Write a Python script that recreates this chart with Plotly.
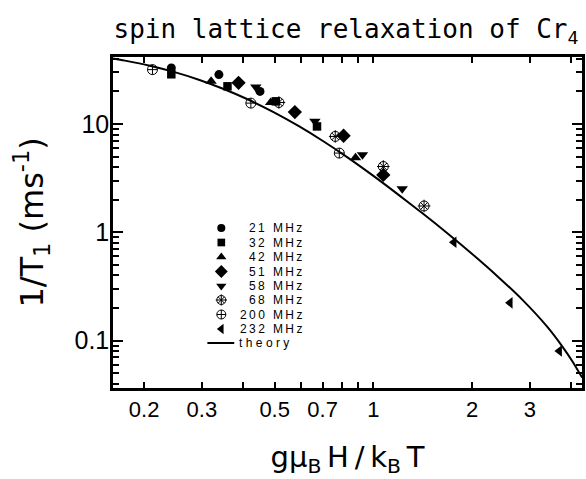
import plotly.graph_objects as go

# ---------------- data ----------------
freq_names = ["21 MHz", "32 MHz", "42 MHz", "51 MHz", "58 MHz", "68 MHz", "200 MHz", "232 MHz"]

x21 = [0.242, 0.338, 0.451]
y21 = [33.0, 28.6, 20.0]
x32 = [0.242, 0.359, 0.504, 0.673]
y32 = [28.8, 22.3, 16.2, 9.5]
x42 = [0.320, 0.486, 0.882]
y42 = [24.8, 15.8, 4.88]
x51 = [0.388, 0.576, 0.811, 1.072]
y51 = [24.0, 12.9, 7.79, 3.39]
x58 = [0.438, 0.663, 0.926, 1.224]
y58 = [22.0, 10.6, 5.2, 2.53]
x68 = [0.515, 0.765, 1.072, 1.427]
y68 = [15.8, 7.68, 4.05, 1.75]
x200 = [0.212, 0.423, 0.787]
y200 = [31.8, 15.6, 5.39]
x232 = [1.76, 2.61, 3.69]
y232 = [0.808, 0.223, 0.080]

theory_x = [0.1607, 0.1748, 0.2081, 0.2477, 0.2949, 0.3511, 0.4181, 0.4977, 0.5926,
            0.7055, 0.8399, 1.0, 1.1906, 1.4175, 1.6876, 2.0092, 2.392, 2.848,
            3.391, 3.765, 4.037, 4.329]
theory_y = [40.26, 38.50, 34.54, 30.15, 25.54, 20.96, 16.66, 12.82, 9.543,
            6.892, 4.843, 3.317, 2.229, 1.482, 0.9707, 0.6237, 0.3915, 0.2375,
            0.1338, 0.0885, 0.0648, 0.0455]

x_tickvals = [0.2, 0.3, 0.5, 0.7, 1, 2, 3]
x_ticktext = ["0.2", "0.3", "0.5", "0.7", "1", "2", "3"]
x_minorvals = [0.4, 0.6, 0.8, 0.9, 4]
y_tickvals = [0.1, 1, 10]
y_ticktext = ["0.1", "1", "10"]
y_minorvals = [0.04, 0.05, 0.06, 0.07, 0.08, 0.09,
               0.2, 0.3, 0.4, 0.5, 0.6, 0.7, 0.8, 0.9,
               2, 3, 4, 5, 6, 7, 8, 9, 20, 30, 40]

# ---------------- layout geometry ----------------
W, H = 586, 479
ML, MR, MT, MB = 113, 1, 57, 91
PW, PH = W - ML - MR, H - MT - MB


def fx(p):
    return (p - ML) / PW


def fy(p):
    return 1 - (p - MT) / PH


def track(s):
    return "\u2009".join(s)


BLACK = "black"
styles = {
    "21 MHz": dict(symbol="circle", size=9),
    "32 MHz": dict(symbol="square", size=8.5),
    "42 MHz": dict(symbol="triangle-up", size=10),
    "51 MHz": dict(symbol="diamond", size=11),
    "58 MHz": dict(symbol="triangle-down", size=10),
    "68 MHz": dict(symbol="circle-x-open", size=10, line=dict(width=1, color=BLACK)),
    "200 MHz": dict(symbol="circle-cross-open", size=10, line=dict(width=1, color=BLACK)),
    "232 MHz": dict(symbol="triangle-left", size=10),
}
xs_all = [x21, x32, x42, x51, x58, x68, x200, x232]
ys_all = [y21, y32, y42, y51, y58, y68, y200, y232]

fig = go.Figure()

fig.add_trace(go.Scatter(x=theory_x, y=theory_y, mode="lines",
                         line=dict(color=BLACK, width=2, shape="spline", smoothing=0.8),
                         showlegend=False, hoverinfo="skip"))

for name, xs, ys in zip(freq_names, xs_all, ys_all):
    st = dict(color=BLACK)
    st.update(styles[name])
    fig.add_trace(go.Scatter(x=xs, y=ys, mode="markers", name=name,
                             marker=st, showlegend=False))
    if name == "68 MHz":
        fig.add_trace(go.Scatter(x=xs, y=ys, mode="markers", showlegend=False,
                                 hoverinfo="skip",
                                 marker=dict(symbol="cross-thin-open", size=9,
                                             color=BLACK,
                                             line=dict(width=1, color=BLACK))))

# ---------------- hand-made legend (overlay axes, 0..1 = plot area) ----------------
leg_rows = [228, 242.5, 257, 271.5, 286, 300, 314.5, 329]
leg_marker_x = 222
leg_text_right = 305
for name, row in zip(freq_names, leg_rows):
    st = dict(color=BLACK)
    st.update(styles[name])
    st["size"] = st["size"] * 0.9
    fig.add_trace(go.Scatter(x=[fx(leg_marker_x)], y=[fy(row)], mode="markers",
                             marker=st, xaxis="x2", yaxis="y2",
                             showlegend=False, hoverinfo="skip"))
    if name == "68 MHz":
        fig.add_trace(go.Scatter(x=[fx(leg_marker_x)], y=[fy(row)], mode="markers",
                                 marker=dict(symbol="cross-thin-open", size=8,
                                             color=BLACK,
                                             line=dict(width=1, color=BLACK)),
                                 xaxis="x2", yaxis="y2", showlegend=False,
                                 hoverinfo="skip"))
    fig.add_annotation(x=fx(leg_text_right), y=fy(row), xref="paper", yref="paper",
                       text=track(name), showarrow=False, xanchor="right",
                       yanchor="middle",
                       font=dict(family="Liberation Sans", size=12, color=BLACK))

theory_row = 343
fig.add_trace(go.Scatter(x=[fx(208), fx(235)], y=[fy(theory_row), fy(theory_row)],
                         mode="lines", line=dict(color=BLACK, width=2),
                         xaxis="x2", yaxis="y2", showlegend=False, hoverinfo="skip"))
fig.add_annotation(x=fx(238), y=fy(theory_row), xref="paper", yref="paper",
                   text="\u2009\u200a".join("theory"), showarrow=False,
                   xanchor="left", yanchor="middle",
                   font=dict(family="Liberation Sans", size=12, color=BLACK))

axis_common = dict(showgrid=False, zeroline=False, showline=True, linewidth=2.5,
                   linecolor=BLACK, mirror="allticks", ticks="inside",
                   tickcolor=BLACK, tickwidth=2)

fig.update_layout(
    width=W, height=H,
    margin=dict(l=ML, r=MR, t=MT, b=MB),
    paper_bgcolor="white", plot_bgcolor="white",
    showlegend=False,
    title=dict(text="spin lattice relaxation of Cr<sub>4</sub>",
               font=dict(family="DejaVu Sans Mono", size=26, color=BLACK),
               x=346 / W, xanchor="center", xref="container",
               y=1 - 29 / H, yanchor="middle", yref="container"),
    xaxis=dict(type="log", range=[-0.794, 0.636], tickmode="array",
               tickvals=x_tickvals, ticktext=x_ticktext, ticklen=6,
               minor=dict(tickvals=x_minorvals, ticklen=6, ticks="inside",
                          tickcolor=BLACK, tickwidth=2),
               tickfont=dict(family="Liberation Sans", size=22, color=BLACK),
               title=dict(text="g\u03bc<sub>B</sub>\u2009H\u2009/\u2009k<sub>B</sub>\u2009T",
                          font=dict(family="DejaVu Sans", size=29, color=BLACK),
                          standoff=26),
               **axis_common),
    yaxis=dict(type="log", range=[-1.438, 1.619], tickmode="array",
               tickvals=y_tickvals, ticktext=y_ticktext, ticklen=10,
               ticklabelstandoff=-4,
               minor=dict(tickvals=y_minorvals, ticklen=6, ticks="inside",
                          tickcolor=BLACK, tickwidth=2),
               tickfont=dict(family="Liberation Sans", size=25, color=BLACK),
               title=dict(text="1/T<sub>1</sub> (ms<sup>-1</sup>)",
                          font=dict(family="DejaVu Sans", size=32, color=BLACK),
                          standoff=22),
               **axis_common),
    xaxis2=dict(overlaying="x", anchor="y2", range=[0, 1], visible=False),
    yaxis2=dict(overlaying="y", anchor="x2", range=[0, 1], visible=False),
    xaxis3=dict(overlaying="x", anchor="y", type="log", range=[-0.794, 0.636],
                tickmode="array", tickvals=[1], ticklen=10, ticks="inside",
                tickwidth=2, tickcolor=BLACK, showticklabels=False,
                showgrid=False, zeroline=False, showline=False, mirror="allticks"),
)

fig.write_html("out.html", config={"displayModeBar": False},
               post_script="document.body.style.margin='0';document.body.style.overflow='hidden';")
